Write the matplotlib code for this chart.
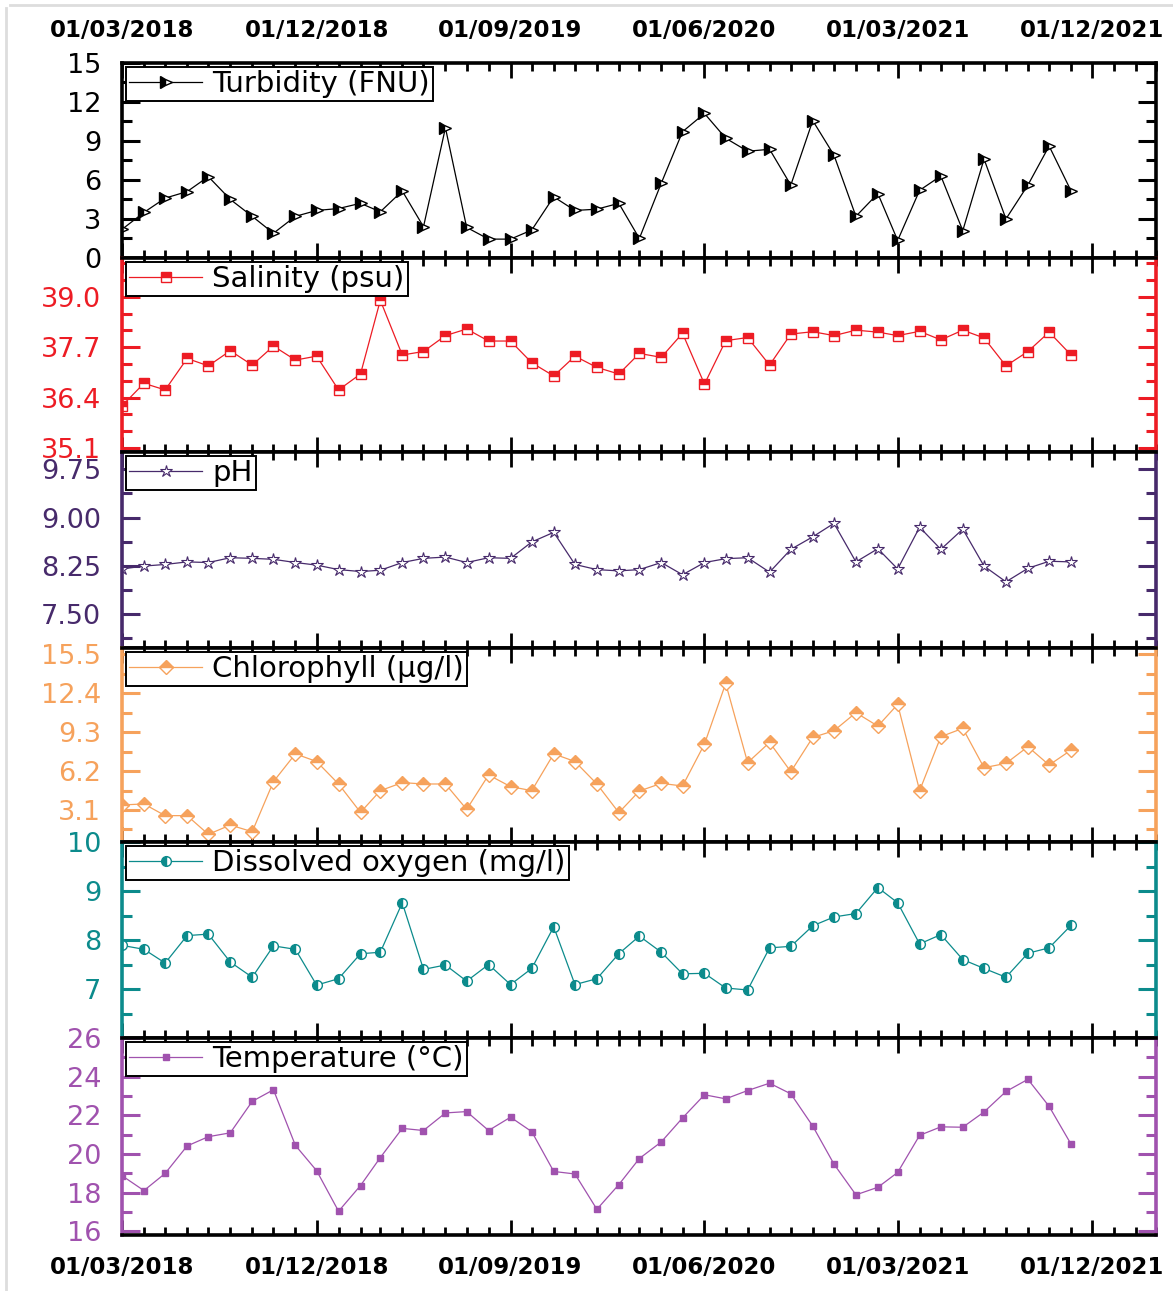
import datetime as dt
import matplotlib
matplotlib.use('Agg')
import matplotlib.pyplot as plt
import matplotlib.dates as mdates
import matplotlib.ticker as ticker
from matplotlib.lines import Line2D
import numpy as np
import pandas as pd

plt.rcParams['font.family'] = ['DejaVu Sans']

# monthly sampling, March 2018 - November 2021
months = pd.date_range('2018-03-01', '2021-11-01', freq='MS')

turbidity = [2.2, 3.5, 4.6, 5.1, 6.25, 4.5, 3.2, 1.9, 3.2, 3.65, 3.8, 4.2, 3.55, 5.15, 2.4,
             10.0, 2.35, 1.45, 1.45, 2.15, 4.7, 3.65, 3.75, 4.2, 1.5, 5.75, 9.7, 11.1, 9.2,
             8.2, 8.35, 5.6, 10.55, 7.9, 3.2, 4.95, 1.35, 5.2, 6.3, 2.1, 7.6, 3.0, 5.6, 8.6, 5.15]
salinity = [36.19, 36.77, 36.6, 37.41, 37.22, 37.61, 37.24, 37.73, 37.37, 37.47, 36.6, 37.01,
            38.91, 37.5, 37.59, 38.0, 38.17, 37.86, 37.86, 37.3, 36.96, 37.47, 37.18, 37.01,
            37.54, 37.44, 38.06, 36.75, 37.87, 37.95, 37.24, 38.04, 38.1, 38.0, 38.14, 38.09,
            38.0, 38.11, 37.89, 38.14, 37.94, 37.22, 37.59, 38.09, 37.5]
ph = [8.2, 8.245, 8.27, 8.31, 8.3, 8.375, 8.365, 8.35, 8.3, 8.26, 8.19, 8.16, 8.18, 8.3, 8.365,
      8.385, 8.3, 8.375, 8.365, 8.62, 8.77, 8.27, 8.19, 8.17, 8.19, 8.3, 8.11, 8.3, 8.36, 8.375,
      8.15, 8.505, 8.7, 8.91, 8.31, 8.515, 8.2, 8.85, 8.505, 8.82, 8.245, 8.0, 8.21, 8.32, 8.31]
chlorophyll = [3.5, 3.58, 2.65, 2.65, 1.16, 1.9, 1.37, 5.36, 7.57, 6.96, 5.17, 2.91, 4.64, 5.28,
               5.17, 5.17, 3.15, 5.89, 4.96, 4.64, 7.57, 6.96, 5.17, 2.89, 4.61, 5.22, 5.01, 8.35,
               13.18, 6.87, 8.48, 6.15, 8.88, 9.41, 10.85, 9.78, 11.51, 4.64, 8.94, 9.6, 6.47,
               6.81, 8.14, 6.68, 7.87]
oxygen = [7.89, 7.81, 7.53, 8.09, 8.12, 7.55, 7.24, 7.88, 7.81, 7.08, 7.21, 7.72, 7.75, 8.76,
          7.4, 7.49, 7.16, 7.5, 7.09, 7.42, 8.27, 7.09, 7.21, 7.72, 8.08, 7.75, 7.31, 7.32, 7.02,
          6.98, 7.84, 7.87, 8.29, 8.47, 8.54, 9.07, 8.76, 7.92, 8.11, 7.6, 7.42, 7.24, 7.73, 7.84, 8.3]
temperature = [18.87, 18.1, 18.99, 20.41, 20.89, 21.09, 22.72, 23.32, 20.44, 19.13, 17.03, 18.36,
               19.81, 21.32, 21.21, 22.12, 22.19, 21.21, 21.9, 21.15, 19.09, 18.96, 17.13, 18.41,
               19.76, 20.62, 21.86, 23.06, 22.85, 23.28, 23.66, 23.11, 21.44, 19.47, 17.88, 18.27,
               19.04, 20.96, 21.4, 21.38, 22.17, 23.23, 23.86, 22.46, 20.5]

date_ticks = ['01/03/2018', '01/12/2018', '01/09/2019', '01/06/2020', '01/03/2021', '01/12/2021']

panels = [
    dict(label='Turbidity (FNU)', y=turbidity, color='black', fmt='%d',
         ylim=(0, 15), major=[0, 3, 6, 9, 12, 15], minor=np.arange(0, 15.01, 1.5),
         mk=dict(marker='>', fillstyle='left', markerfacecolor='black',
                 markerfacecoloralt='white', markersize=8)),
    dict(label='Salinity (psu)', y=salinity, color='#ED1C24', fmt='%.1f',
         ylim=(35.0, 40.0), major=[35.1, 36.4, 37.7, 39.0], minor=35.1 + np.arange(0, 12) * 1.3 / 3,
         mk=dict(marker='s', fillstyle='top', markerfacecolor='#ED1C24',
                 markerfacecoloralt='white', markersize=7)),
    dict(label='pH', y=ph, color='#472A6B', fmt='%.2f',
         ylim=(6.97, 10.02), major=[7.5, 8.25, 9.0, 9.75], minor=np.arange(7.125, 10.0, 0.375),
         mk=dict(marker='*', markerfacecolor='white', markersize=9, markeredgewidth=0.8)),
    dict(label='Chlorophyll (µg/l)', y=chlorophyll, color='#F6A25C', fmt='%.1f',
         ylim=(0.55, 16.0), major=[3.1, 6.2, 9.3, 12.4, 15.5], minor=np.arange(1.55, 16.0, 1.55),
         mk=dict(marker='D', fillstyle='top', markerfacecolor='#F6A25C',
                 markerfacecoloralt='white', markersize=7)),
    dict(label='Dissolved oxygen (mg/l)', y=oxygen, color='#0C8B8C', fmt='%d',
         ylim=(6.0, 10.0), major=[7, 8, 9, 10], minor=np.arange(6.5, 10.0, 0.5),
         mk=dict(marker='o', fillstyle='left', markerfacecolor='#0C8B8C',
                 markerfacecoloralt='white', markersize=7)),
    dict(label='Temperature (°C)', y=temperature, color='#A052AE', fmt='%d',
         ylim=(15.8, 26.0), major=[16, 18, 20, 22, 24, 26], minor=np.arange(17, 26, 1),
         mk=dict(marker='s', markersize=4.5)),
]

W, H = 1173, 1291
fig = plt.figure(figsize=(W / 100, H / 100), dpi=100)

edges = [62.7, 258, 452, 648, 842, 1038, 1235]
x0, x1 = 122, 1156

tick_dates = [dt.datetime.strptime(s, '%d/%m/%Y') for s in date_ticks]

for i, p in enumerate(panels):
    top, bot = edges[i], edges[i + 1]
    ax = fig.add_axes([x0 / W, 1 - bot / H, (x1 - x0) / W, (bot - top) / H])
    c = p['color']
    ax.plot(months, p['y'], color=c, lw=0.9, markeredgecolor=c, label=p['label'], **p['mk'])

    ax.set_xlim(dt.datetime(2018, 3, 1), dt.datetime(2022, 3, 1))
    ax.set_ylim(*p['ylim'])

    ax.xaxis.set_major_locator(ticker.FixedLocator(mdates.date2num(tick_dates)))
    ax.xaxis.set_minor_locator(mdates.MonthLocator())
    ax.xaxis.set_major_formatter(mdates.DateFormatter('%d/%m/%Y'))
    ax.yaxis.set_major_locator(ticker.FixedLocator(p['major']))
    ax.yaxis.set_minor_locator(ticker.FixedLocator(p['minor']))
    ax.yaxis.set_major_formatter(ticker.FormatStrFormatter(p['fmt']))

    for s in ['top', 'bottom']:
        ax.spines[s].set_color('black')
        ax.spines[s].set_linewidth(2.6)
    for s in ['left', 'right']:
        ax.spines[s].set_color(c)
        ax.spines[s].set_linewidth(2.6)

    first, last = (i == 0), (i == len(panels) - 1)
    ax.tick_params(axis='x', which='both', direction='in', top=True, bottom=True,
                   color='black', width=2, labeltop=first, labelbottom=last,
                   labelsize=16.5)
    ax.tick_params(axis='x', which='major', length=11, pad=15)
    ax.tick_params(axis='x', which='minor', length=5.5)
    ax.tick_params(axis='y', which='both', direction='in', left=True, right=True,
                   color=c, labelcolor=c, width=2.2, labelsize=19.5)
    ax.tick_params(axis='y', which='major', length=13, pad=15)
    ax.tick_params(axis='y', which='minor', length=7)
    for lab in ax.get_xticklabels():
        lab.set_fontweight('bold')

    leg = ax.legend(loc='upper left', bbox_to_anchor=(0, 1), borderaxespad=0.15,
                    fancybox=False, edgecolor='black', framealpha=1, fontsize=21,
                    handlelength=2.5, handletextpad=0.35, borderpad=0.1)
    leg.get_frame().set_linewidth(1.4)

# thin grey border
fig.add_artist(Line2D([10 / W, 1], [1 - 5 / H, 1 - 5 / H], color='#dddddd', lw=2))
fig.add_artist(Line2D([6 / W, 6 / W], [0, 1 - 8 / H], color='#dddddd', lw=2))

fig.savefig('out.png', dpi=100)
